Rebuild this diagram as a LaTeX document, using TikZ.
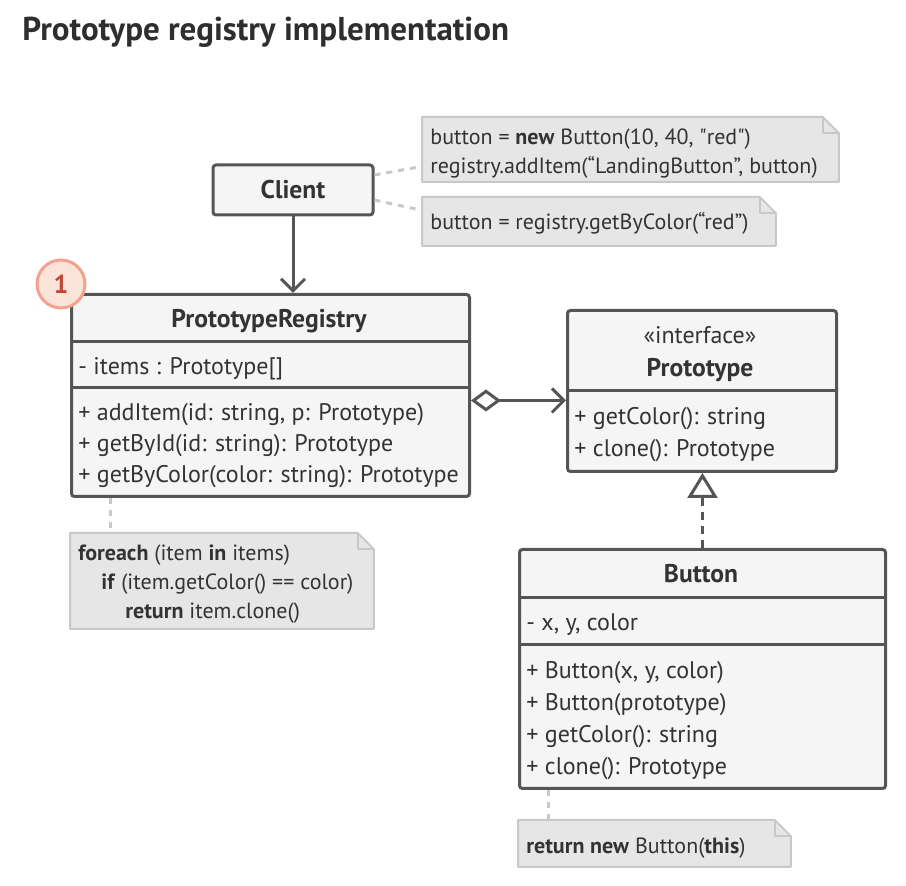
\documentclass[tikz,border=0pt]{standalone}
\usepackage{fontspec}
\setmainfont{PT Sans}
\usetikzlibrary{arrows.meta}
\definecolor{umlline}{HTML}{555555}
\definecolor{umlfill}{HTML}{F5F5F5}
\definecolor{umltext}{HTML}{333333}
\definecolor{notefill}{HTML}{E6E6E6}
\definecolor{noteline}{HTML}{C8C8C8}
\definecolor{badgefill}{HTML}{FBE3DA}
\definecolor{badgeline}{HTML}{F0A48E}
\definecolor{badgetext}{HTML}{C4463A}
\tikzset{
  classbox/.style={draw=umlline, fill=umlfill, line width=1.5pt,
    rounded corners=1.5pt, inner sep=0pt},
  member/.style={anchor=base west, inner sep=0pt, yshift=-1pt},
  notetext/.style={anchor=base west, inner sep=0pt, yshift=-1pt, font=\fontsize{11}{12}\selectfont},
  classname/.style={anchor=base, inner sep=0pt, yshift=-1pt, font=\fontsize{12.8}{14}\selectfont\bfseries},
  divider/.style={draw=umlline, line width=1.5pt},
  notebox/.style={anchor=north west, inner sep=0pt, draw=none},
  notepaper/.style={draw=noteline, fill=notefill, line width=1pt, line join=round},
  notelink/.style={draw=noteline, line width=1.5pt, dash pattern=on 3pt off 3pt},
  assoc/.style={draw=umlline, line width=1.5pt, -{Straight Barb[length=6pt, width=12pt]}},
  aggr/.style={draw=umlline, line width=1.5pt,
    {Diamond[open, fill=white, length=15pt, width=11pt]}-{Straight Barb[length=6pt, width=12pt]}},
  realize/.style={draw=umlline, line width=1.5pt, dash pattern=on 4pt off 3pt,
    -{Triangle[open, fill=white, length=12.5pt, width=15pt]}},
}
\begin{document}
\begin{tikzpicture}[x=0.5pt, y=-0.5pt,
  every node/.style={text=umltext, font=\fontsize{12}{14}\selectfont}]
\useasboundingbox (0,0) rectangle (906,886);

\node[anchor=base west, inner sep=0pt, text=umltext!90!black,
  font=\fontsize{16.5}{18}\selectfont\bfseries] (title) at (22,41)
  {Prototype registry implementation};

% classes
\node[classbox, minimum width=80pt, minimum height=25pt] (client) at (293,190) {};
\node[classname] (clientname) at (293,197) {Client};

\node[classbox, anchor=north west, minimum width=199pt, minimum height=101pt] (registry) at (70,293) {};
\draw[divider] (70,342) -- (468,342);
\draw[divider] (70,388) -- (468,388);
\node[classname] (registryname) at (269,326) {PrototypeRegistry};
\node[member] (items) at (78,373) {- items : Prototype[]};
\node[member] (additem) at (78,419) {+ addItem(id: string, p: Prototype)};
\node[member] (getbyid) at (78,450) {+ getById(id: string): Prototype};
\node[member] (getbycolor) at (78,481) {+ getByColor(color: string): Prototype};

\node[classbox, anchor=north west, minimum width=134.5pt, minimum height=80.5pt] (proto) at (566,309) {};
\draw[divider] (566,391) -- (835,391);
\node[anchor=base, inner sep=0pt, yshift=-1pt] (stereo) at (700,342) {«interface»};
\node[classname] (protoname) at (700,375) {Prototype};
\node[member] (pgetcolor) at (574,423) {+ getColor(): string};
\node[member] (pclone) at (574,455) {+ clone(): Prototype};

\node[classbox, anchor=north west, minimum width=183pt, minimum height=119.5pt] (button) at (518,548) {};
\draw[divider] (518,598) -- (884,598);
\draw[divider] (518,645) -- (884,645);
\node[classname] (buttonname) at (701,581) {Button};
\node[member] (fields) at (526,629) {- x, y, color};
\node[member] (ctor1) at (526,677) {+ Button(x, y, color)};
\node[member] (ctor2) at (526,709) {+ Button(prototype)};
\node[member] (bgetcolor) at (526,741) {+ getColor(): string};
\node[member] (bclone) at (526,773) {+ clone(): Prototype};

\node[circle, draw=badgeline, fill=badgefill, line width=1.5pt, minimum size=24pt,
  inner sep=0pt, text=badgetext, font=\fontsize{13}{13}\selectfont\bfseries] (badge) at (61,284) {1};

% notes
\node[notebox, minimum width=208pt, minimum height=32pt] (note1) at (422,117) {};
\node[notebox, minimum width=176.5pt, minimum height=24pt] (note2) at (422,197) {};
\node[notebox, minimum width=151.5pt, minimum height=47.5pt] (loopnote) at (70,533) {};
\node[notebox, minimum width=136pt, minimum height=23pt] (retnote) at (518,820) {};
\foreach \n in {note1,note2,loopnote,retnote}{
  \draw[notepaper] (\n.south west) -- (\n.north west) -- ([xshift=-8pt]\n.north east)
    -- ([yshift=-8pt]\n.north east) -- (\n.south east) -- cycle;
  \draw[notepaper, fill=none] ([xshift=-8pt]\n.north east) |- ([yshift=-8pt]\n.north east);
}
\node[notetext] (newbutton) at (430,143) {button = \textbf{new} Button(10, 40, \textquotedbl red\textquotedbl)};
\node[notetext] (additemcall) at (430,172) {registry.addItem(“LandingButton”, button)};
\node[notetext] (getcall) at (430,228) {button = registry.getByColor(“red”)};
\node[notetext] (loop1) at (78,559) {\textbf{foreach} (item \textbf{in} items)};
\node[notetext] (loop2) at (101,588) {\textbf{if} (item.getColor() == color)};
\node[notetext] (loop3) at (125,617) {\textbf{return} item.clone()};
\node[notetext] (retcall) at (526,852) {\textbf{return new} Button(\textbf{this})};

% connectors
\draw[assoc] (client.south) -- (client.south |- registry.north);
\draw[aggr] ([yshift=-2.5pt]registry.east) -- ([yshift=-2.5pt]registry.east -| proto.west);
\draw[realize] (button.north) -- (button.north |- proto.south);
\draw[notelink] ([yshift=7.5pt]client.east) -- ([yshift=-8.5pt]note1.west);
\draw[notelink] ([yshift=-5pt]client.east) -- ([yshift=5.5pt]note2.west);
\draw[notelink] ([xshift=20pt]registry.south west) -- ([xshift=20pt]registry.south west |- loopnote.north);
\draw[notelink] ([xshift=15pt]button.south west) -- ([xshift=15pt]button.south west |- retnote.north);
\end{tikzpicture}
\end{document}
